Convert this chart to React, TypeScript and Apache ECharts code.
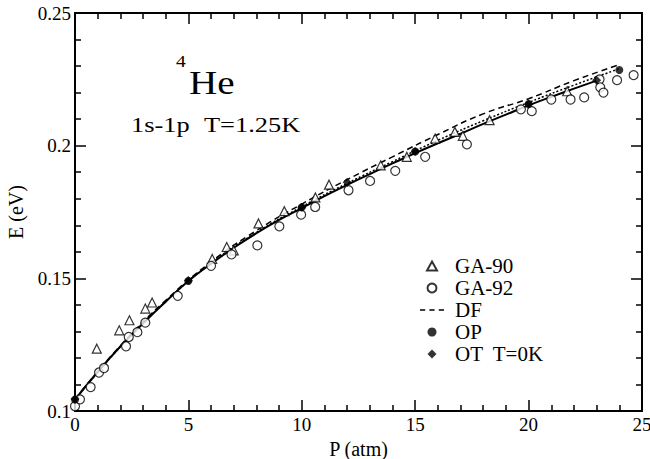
import React, { useEffect, useRef } from "react";
import * as echarts from "echarts";

const xTicks = [0, 5, 10, 15, 20, 25];
const yTicks = [0.1, 0.15, 0.2, 0.25];

const ga90: [number, number][] = [
  [0.96, 0.1235], [1.95, 0.1304], [2.4, 0.1342], [3.1, 0.1386], [3.4, 0.1409],
  [6.05, 0.1573], [6.69, 0.1618], [7.0, 0.1605], [8.09, 0.1707], [9.23, 0.1753],
  [10.6, 0.1805], [11.2, 0.1853], [13.48, 0.1926], [14.63, 0.1958], [15.88, 0.2027],
  [16.75, 0.2052], [17.1, 0.2037], [18.28, 0.2096], [21.7, 0.2205],
];

const ga92: [number, number][] = [
  [0, 0.1018], [0.22, 0.1044], [0.69, 0.109], [1.06, 0.1145], [1.28, 0.1162],
  [2.25, 0.1244], [2.37, 0.1279], [2.75, 0.1297], [3.1, 0.1333], [4.53, 0.1434],
  [6.0, 0.1547], [6.9, 0.159], [8.04, 0.1624], [9.01, 0.1696], [9.97, 0.174],
  [10.59, 0.1769], [12.06, 0.1832], [13.01, 0.1867], [14.12, 0.1905], [15.44, 0.1958],
  [17.28, 0.2005], [19.66, 0.2137], [20.14, 0.213], [21.0, 0.2174], [21.85, 0.2174],
  [22.45, 0.2182], [23.13, 0.225], [23.16, 0.222], [23.3, 0.22], [23.9, 0.2247],
  [24.63, 0.2266],
];

const opPoints: [number, number][] = [
  [0, 0.1043], [5, 0.149], [10, 0.1768], [15, 0.1978], [20, 0.2157], [24, 0.2285],
];

const otPoints: [number, number][] = [
  [0, 0.1045], [5, 0.1492], [10, 0.1768], [12, 0.1862], [15, 0.1978], [20, 0.2157], [23, 0.2247],
];

const solidP = [0, 1, 2, 3, 4, 5, 6, 7, 8, 9, 10, 11, 12, 13, 14, 15, 16, 17, 18, 19, 20, 21, 22, 23];
const solidE = [
  0.1043, 0.1147, 0.1243, 0.133, 0.1412, 0.149, 0.1555, 0.1615, 0.167, 0.172,
  0.1765, 0.181, 0.1852, 0.1893, 0.1933, 0.1972, 0.2009, 0.2045, 0.2082, 0.2117,
  0.2152, 0.2184, 0.2215, 0.2245,
];

const dottedP = [0, 2, 4, 6, 8, 10, 12, 14, 16, 18, 20, 22, 24];
const dottedE = [0.1043, 0.1243, 0.1413, 0.1557, 0.1673, 0.177, 0.1858, 0.194, 0.202, 0.2094, 0.2163, 0.2228, 0.229];

const dfP = [0, 2, 4, 6, 8, 10, 12, 14, 16, 18, 20, 22, 24];
const dfE = [0.1045, 0.1246, 0.1417, 0.1562, 0.168, 0.178, 0.1872, 0.1958, 0.2042, 0.212, 0.2177, 0.2245, 0.2305];

const zip = (a: number[], b: number[]) => a.map((v, i) => [v, b[i]]);

const FONT = "'Liberation Serif', 'Times New Roman', serif";
const TRI = "path://M5,0L10,9L0,9Z";
const DIA = "path://M5,0L10,5L5,10L0,5Z";
const DASH = "path://M0,0h5v1.6h-5z M9,0h5v1.6h-5z M18,0h5v1.6h-5z";

export default function App() {
  const ref = useRef<HTMLDivElement>(null);
  useEffect(() => {
    document.body.style.margin = "0";
    if (!ref.current) return;
    const chart = echarts.init(ref.current, null, { renderer: "svg" });
    const axisCommon = {
      min: 0,
      max: 25,
      interval: 5,
      axisLine: { show: true, onZero: false, lineStyle: { color: "#000", width: 2 } },
      axisTick: { show: true, inside: true, length: 11, lineStyle: { color: "#000", width: 1.5 } },
      minorTick: { show: true, splitNumber: 5, length: 6, lineStyle: { color: "#000", width: 1.5 } },
      splitLine: { show: false },
    };
    const yCommon = {
      ...axisCommon,
      min: 0.1,
      max: 0.25,
      interval: 0.05,
    };
    const openStyle = { color: "#fff", borderColor: "#000", borderWidth: 1.2 };
    const txt = (text: string, x: number, y: number, size: number, sx: number) => ({
      type: "text",
      x,
      y,
      scaleX: sx,
      style: {
        text,
        font: `normal ${size}px 'Liberation Serif', serif`,
        fill: "#000",
        align: "left",
        verticalAlign: "middle",
      },
    });
    chart.setOption({
      animation: false,
      backgroundColor: "#fff",
      grid: { left: 75, right: 8, top: 13, bottom: 48, containLabel: false, outerBoundsMode: "none" },
      xAxis: [
        {
          type: "value",
          position: "bottom",
          ...axisCommon,
          name: "P (atm)",
          nameLocation: "middle",
          nameGap: 22,
          nameTextStyle: { fontFamily: FONT, fontSize: 20, color: "#000" },
          axisLabel: {
            fontFamily: FONT, fontSize: 19, color: "#000", margin: 4,
            formatter: (v: number) => (xTicks.includes(v) ? String(v) : ""),
          },
        },
        {
          type: "value",
          position: "top",
          ...axisCommon,
          axisLabel: { show: false },
        },
      ],
      yAxis: [
        {
          type: "value",
          position: "left",
          ...yCommon,
          name: "E (eV)",
          nameLocation: "middle",
          nameGap: 49,
          nameTextStyle: { fontFamily: FONT, fontSize: 20, color: "#000" },
          axisLabel: {
            fontFamily: FONT, fontSize: 19, color: "#000", margin: 4,
            formatter: (v: number) => {
              const r = +v.toFixed(2);
              return yTicks.includes(r) ? String(r) : "";
            },
          },
        },
        {
          type: "value",
          position: "right",
          ...yCommon,
          axisLabel: { show: false },
        },
      ],
      legend: {
        orient: "vertical",
        left: 420,
        top: 255,
        padding: 0,
        itemGap: 0,
        itemWidth: 24,
        itemHeight: 9,
        symbolKeepAspect: true,
        textStyle: { fontFamily: FONT, fontSize: 21, color: "#000", lineHeight: 22, padding: [0, 0, 0, 6] },
        data: [
          { name: "GA-90", icon: TRI },
          { name: "GA-92", icon: "circle" },
          { name: "DF", icon: DASH },
          { name: "OP", icon: "circle" },
          { name: "OT  T=0K", icon: DIA },
        ],
      },
      graphic: [
        txt("4", 176, 61, 17, 1.15),
        txt("He", 189, 82, 34, 1.15),
        txt("1s-1p", 131, 124, 22, 1.2),
        txt("T=1.25K", 204, 124, 22, 1.2),
      ],
      series: [
        {
          name: "solid",
          type: "line",
          data: zip(solidP, solidE),
          symbol: "none",
          smooth: true,
          lineStyle: { color: "#000", width: 2 },
          z: 2,
        },
        {
          name: "dotted",
          type: "line",
          data: zip(dottedP, dottedE),
          symbol: "none",
          smooth: true,
          lineStyle: { color: "#000", width: 1.5, type: [2, 2] },
          z: 2,
        },
        {
          name: "DF",
          type: "line",
          data: zip(dfP, dfE),
          symbol: "none",
          smooth: true,
          itemStyle: { color: "#000" },
          lineStyle: { color: "#000", width: 1.5, type: [6, 4] },
          z: 2,
        },
        {
          name: "GA-90",
          type: "scatter",
          data: ga90,
          symbol: "triangle",
          symbolSize: 9,
          itemStyle: openStyle,
          z: 3,
        },
        {
          name: "GA-92",
          type: "scatter",
          data: ga92,
          symbol: "circle",
          symbolSize: 9,
          itemStyle: openStyle,
          z: 3,
        },
        {
          name: "OP",
          type: "scatter",
          data: opPoints,
          symbol: "circle",
          symbolSize: 8,
          itemStyle: { color: "#000" },
          z: 4,
        },
        {
          name: "OT  T=0K",
          type: "scatter",
          data: otPoints,
          symbol: "diamond",
          symbolSize: 9,
          itemStyle: { color: "#000" },
          z: 4,
        },
      ],
    });
    return () => chart.dispose();
  }, []);
  return <div ref={ref} style={{ width: 650, height: 459 }} />;
}
